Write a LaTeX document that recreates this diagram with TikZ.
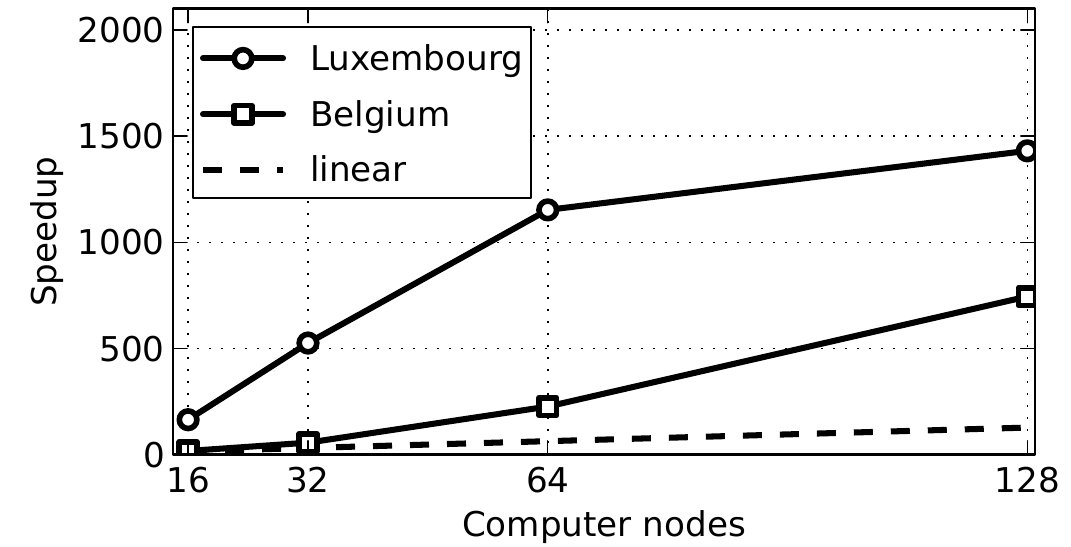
\documentclass[tikz,border=0pt]{standalone}
\usepackage{fontspec}
\setmainfont{DejaVu Sans}
\usetikzlibrary{positioning}

\begin{document}
\begin{tikzpicture}[line cap=round,line join=round,x=0.187325cm,y=0.0053125cm,
  font=\fontsize{24.3}{29}\selectfont,
  gridline/.style={line width=1.1pt,line cap=butt,dash pattern=on 0.045cm off 0.255cm},
  curve/.style={line width=4.3pt,color=black},
  linear/.style={line width=4.3pt,line cap=butt,dash pattern=on 0.475cm off 0.45cm},
  luxmark/.style={circle,draw,line width=4pt,fill=white,inner sep=0,minimum size=0.44cm},
  belmark/.style={rectangle,draw,line width=4pt,fill=white,inner sep=0,minimum size=0.44cm}]
\useasboundingbox (-9.103,-432.9) rectangle (133.83,2141.2);
% grid
\foreach \x in {16,32,64,128}
\draw[gridline] (\x,0) -- (\x,2100);
\foreach \y in {500,1000,1500,2000}
\draw[gridline] (14,\y) -- (129,\y);
% data
\begin{scope}
\clip (14,0) rectangle (129,2100);
\draw[linear] (16,16) -- (32,32) -- (64,64) -- (128,128);
\draw[curve] (16,18) -- (32,57) -- (64,227) -- (128,745);
\foreach \x/\y in {16/18,32/57,64/227,128/745}
\node[belmark] (bel\x) at (\x,\y) {};
\draw[curve] (16,165) -- (32,526) -- (64,1153) -- (128,1431);
\foreach \x/\y in {16/165,32/526,64/1153,128/1431}
\node[luxmark] (lux\x) at (\x,\y) {};
\end{scope}
% frame and ticks
\draw[line width=1.8pt,line cap=butt] (14,0) rectangle (129,2100);
\foreach \x in {16,32,64,128}
{
\draw[line width=1pt] (\x,0) -- (\x,65.9);
\draw[line width=1pt] (\x,2100) -- (\x,2034.1);
\node[anchor=base] (xl\x) at (\x,-178.8) {\x};
}
\foreach \y in {0,500,1000,1500,2000}
{
\draw[line width=1pt] (14,\y) -- (15.87,\y);
\draw[line width=1pt] (129,\y) -- (127.13,\y);
\node[anchor=east,inner sep=0] (yl\y) at (12.92,\y) {\y};
}
\node[anchor=base] (xlabel) at (71.5,-384.5) {Computer nodes};
\node[rotate=90,anchor=base] (ylabel) at (-1.54,1050) {Speedup};
% legend
\draw[line width=1.4pt,line cap=butt,fill=white] (16.62,1210) rectangle (61.76,2012);
\draw[curve] (17.99,1866) -- (28.67,1866);
\node[luxmark] (luxkey) at (23.33,1866) {};
\node[anchor=base west,inner sep=0] (luxtext) at (32.27,1807) {Luxembourg};
\draw[curve] (17.99,1603) -- (28.67,1603);
\node[belmark] (belkey) at (23.33,1603) {};
\node[anchor=base west,inner sep=0] (beltext) at (32.27,1545) {Belgium};
\draw[linear] (17.99,1341) -- (28.67,1341);
\node[anchor=base west,inner sep=0] (lintext) at (32.27,1286) {linear};
\end{tikzpicture}
\end{document}
